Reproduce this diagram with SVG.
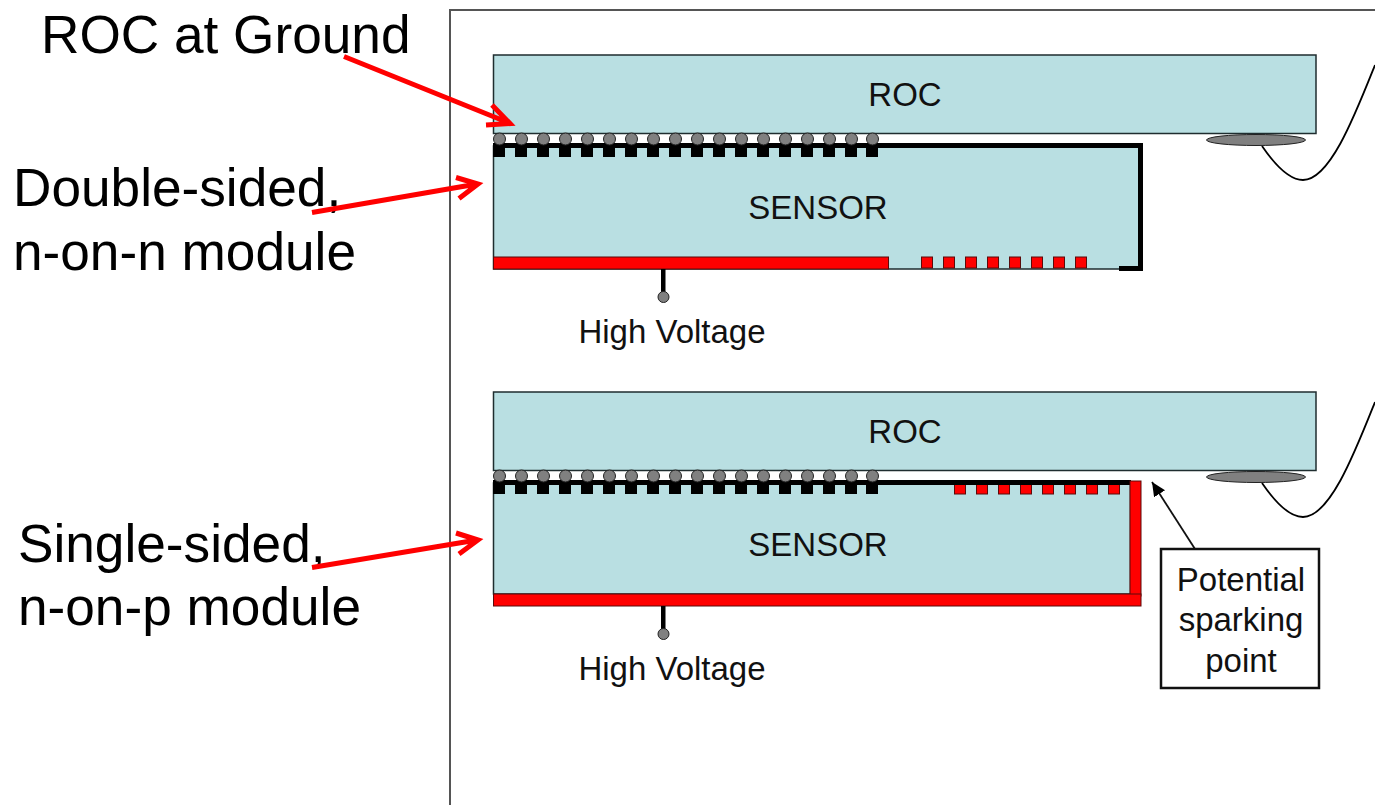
<svg xmlns="http://www.w3.org/2000/svg" xmlns:xlink="http://www.w3.org/1999/xlink" width="1375" height="805" viewBox="0 0 1375 805">
<style>
text{font-family:"Liberation Sans",Arial,sans-serif;fill:#000}
.big{font-size:53.2px}
.mid{font-size:33px;fill:#111}
.c{text-anchor:middle}
.chip{fill:#b9dfe2;stroke:#1f2d2f;stroke-width:1.5}
.red{fill:#f00;stroke:#5a0a0a;stroke-width:1}
.blk{fill:#000}
.bump{fill:#808080;stroke:#222;stroke-width:1}
.pad{fill:#000}
.ell{fill:#808080;stroke:#222;stroke-width:1}
.wire{fill:none;stroke:#000;stroke-width:1.8}
.rarrow{fill:none;stroke:#f00;stroke-width:5}
.frame{fill:none;stroke:#555;stroke-width:2}
</style>
<defs>
<g id="bumpRow">
<rect class="pad" x="493" y="143" width="12" height="14"/><circle class="bump" cx="499.5" cy="139" r="6"/>
<rect class="pad" x="515" y="143" width="12" height="14"/><circle class="bump" cx="521.5" cy="139" r="6"/>
<rect class="pad" x="537" y="143" width="12" height="14"/><circle class="bump" cx="543.5" cy="139" r="6"/>
<rect class="pad" x="559" y="143" width="12" height="14"/><circle class="bump" cx="565.5" cy="139" r="6"/>
<rect class="pad" x="581" y="143" width="12" height="14"/><circle class="bump" cx="587.5" cy="139" r="6"/>
<rect class="pad" x="603" y="143" width="12" height="14"/><circle class="bump" cx="609.5" cy="139" r="6"/>
<rect class="pad" x="625" y="143" width="12" height="14"/><circle class="bump" cx="631.5" cy="139" r="6"/>
<rect class="pad" x="647" y="143" width="12" height="14"/><circle class="bump" cx="653.5" cy="139" r="6"/>
<rect class="pad" x="669" y="143" width="12" height="14"/><circle class="bump" cx="675.5" cy="139" r="6"/>
<rect class="pad" x="691" y="143" width="12" height="14"/><circle class="bump" cx="697.5" cy="139" r="6"/>
<rect class="pad" x="713" y="143" width="12" height="14"/><circle class="bump" cx="719.5" cy="139" r="6"/>
<rect class="pad" x="735" y="143" width="12" height="14"/><circle class="bump" cx="741.5" cy="139" r="6"/>
<rect class="pad" x="757" y="143" width="12" height="14"/><circle class="bump" cx="763.5" cy="139" r="6"/>
<rect class="pad" x="779" y="143" width="12" height="14"/><circle class="bump" cx="785.5" cy="139" r="6"/>
<rect class="pad" x="801" y="143" width="12" height="14"/><circle class="bump" cx="807.5" cy="139" r="6"/>
<rect class="pad" x="823" y="143" width="12" height="14"/><circle class="bump" cx="829.5" cy="139" r="6"/>
<rect class="pad" x="845" y="143" width="12" height="14"/><circle class="bump" cx="851.5" cy="139" r="6"/>
<rect class="pad" x="866" y="143" width="12" height="14"/><circle class="bump" cx="872.5" cy="139" r="6"/>
</g>
<g id="redPads">
<rect class="red" x="0" y="0" width="11" height="11"/>
<rect class="red" x="22" y="0" width="11" height="11"/>
<rect class="red" x="44" y="0" width="11" height="11"/>
<rect class="red" x="66" y="0" width="11" height="11"/>
<rect class="red" x="88" y="0" width="11" height="11"/>
<rect class="red" x="110" y="0" width="11" height="11"/>
<rect class="red" x="132" y="0" width="11" height="11"/>
<rect class="red" x="154" y="0" width="11" height="11"/>
</g>
<marker id="blackHead" markerUnits="userSpaceOnUse" markerWidth="16" markerHeight="14" refX="14" refY="6.500" orient="auto"><path d="M0 0L14 6.500L0 13Z" fill="#000"/></marker>
</defs>

<path id="frame" class="frame" d="M450 805V10H1375"/>

<g id="module-top">
<g id="sensor-top">
<rect class="chip" x="493.5" y="146" width="647" height="123"/>
<rect class="red" x="493.5" y="257" width="395" height="12"/>
<use xlink:href="#redPads" href="#redPads" x="921.5" y="257"/>
<path class="blk" d="M880 143H1143V271H1119V266H1138V148H880Z"/>
<text class="mid c" x="818" y="219">SENSOR</text>
</g>
<g id="roc-top">
<rect class="chip" x="493.5" y="55" width="822.5" height="78.5"/>
<text class="mid c" x="905" y="106">ROC</text>
</g>
<g id="bumps-top">
<rect class="blk" x="493" y="143" width="387" height="5"/>
<use xlink:href="#bumpRow" href="#bumpRow"/>
</g>
<g id="contact-top">
<path class="wire" d="M1262 146C1275 165 1290 180 1303 180C1330 180 1355 115 1375 65"/>
<ellipse class="ell" cx="1256" cy="140" rx="49.500" ry="5.500"/>
</g>
<g id="hv-top">
<rect class="blk" x="661" y="269" width="4.500" height="23"/>
<circle class="bump" cx="663.500" cy="297" r="5.500"/>
<text class="mid c" x="672" y="343">High Voltage</text>
</g>
</g>

<g id="module-bottom">
<g id="sensor-bottom">
<rect class="chip" x="493.500" y="483" width="637" height="111"/>
<use xlink:href="#redPads" href="#redPads" x="954.500" y="483"/>
<rect class="blk" x="493" y="480" width="638" height="5"/>
<rect class="red" x="1130" y="481" width="11" height="115"/>
<rect class="red" x="493.500" y="594" width="647.500" height="12"/>
<text class="mid c" x="818" y="556">SENSOR</text>
</g>
<g id="roc-bottom">
<rect class="chip" x="493.500" y="392" width="822.500" height="78.500"/>
<text class="mid c" x="905" y="443">ROC</text>
</g>
<g id="bumps-bottom">
<use xlink:href="#bumpRow" href="#bumpRow" y="337"/>
</g>
<g id="contact-bottom">
<path class="wire" d="M1262 483C1275 502 1290 517 1303 517C1330 517 1355 452 1375 402"/>
<ellipse class="ell" cx="1256" cy="477" rx="49.500" ry="5.500"/>
</g>
<g id="hv-bottom">
<rect class="blk" x="661" y="606" width="4.500" height="23"/>
<circle class="bump" cx="663.500" cy="634" r="5.500"/>
<text class="mid c" x="672" y="680">High Voltage</text>
</g>
</g>

<g id="callout">
<rect x="1161" y="549" width="158" height="139" fill="#fff" stroke="#111" stroke-width="2.500"/>
<text class="mid c" x="1241" y="591">Potential</text>
<text class="mid c" x="1241" y="631">sparking</text>
<text class="mid c" x="1241" y="672">point</text>
</g>

<g id="labels">
<text class="big" x="41" y="52.500">ROC at Ground</text>
<text class="big" x="13" y="205.500">Double-sided,</text>
<text class="big" x="13" y="270">n-on-n module</text>
<text class="big" x="18" y="561.500">Single-sided,</text>
<text class="big" x="18" y="625">n-on-p module</text>
</g>

<g id="connectors">
<path class="rarrow" d="M344 56.500L508 122.500M492 105L510 123.500L486 125"/>
<path class="rarrow" d="M312 212.500L477 184M456 177.500L478 184L459 198.500"/>
<path class="rarrow" d="M312 567.500L477 540M456 533L478 540L459 554"/>
<path d="M1195 549L1152 482" fill="none" stroke="#111" stroke-width="1.800" marker-end="url(#blackHead)"/>
</g>
</svg>
